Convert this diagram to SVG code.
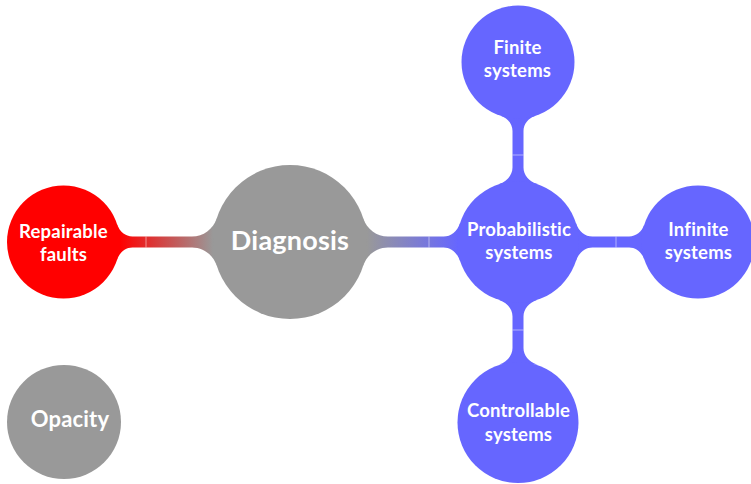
<svg xmlns="http://www.w3.org/2000/svg" width="751" height="484" viewBox="0 0 751 484">
  <style>
    .red { fill: #ff0000; }
    .gray { fill: #999999; }
    .blue { fill: #6666ff; }
    .label { fill: #ffffff; font-family: Lato, "Open Sans", "DejaVu Sans", sans-serif; font-weight: bold; text-anchor: middle; letter-spacing: 0.2px; }
    .small { font-size: 18.5px; }
    .seam { stroke: #ffffff; stroke-width: 0.7; stroke-opacity: 0.7; fill: none; }
  </style>
  <defs>
    <linearGradient id="redToGray" gradientUnits="userSpaceOnUse" x1="120" y1="0" x2="213" y2="0">
      <stop offset="0" stop-color="#ff0000"/>
      <stop offset="1" stop-color="#999999"/>
    </linearGradient>
    <linearGradient id="grayToBlue" gradientUnits="userSpaceOnUse" x1="367" y1="0" x2="458" y2="0">
      <stop offset="0" stop-color="#999999"/>
      <stop offset="1" stop-color="#6666ff"/>
    </linearGradient>
  </defs>

  <!-- connection bars -->
  <g id="connectors">
    <path fill="url(#redToGray)" d="M117.24,224.54 C119.57,231.72 125.63,236.5 132.4,236.5 L192,236.5 C203.3,236.5 213.21,229.18 216.77,218.21 L216.77,265.79 C213.21,254.82 203.3,247.5 192,247.5 L132.4,247.5 C125.63,247.5 119.57,252.28 117.24,259.46 Z"/>
    <line class="seam" x1="146" y1="236.5" x2="146" y2="247.5"/>

    <path fill="url(#grayToBlue)" d="M363.23,218.21 C366.79,229.18 376.7,236.5 388,236.5 L443.6,236.5 C450.83,236.5 457.38,231.16 459.98,223.15 L459.98,260.85 C457.38,252.84 450.83,247.5 443.6,247.5 L388,247.5 C376.7,247.5 366.79,254.82 363.23,265.79 Z"/>
    <line class="seam" x1="429" y1="236.5" x2="429" y2="247.5"/>

    <path class="blue" d="M576.02,223.15 C578.62,231.16 585.17,236.5 592.4,236.5 L629.1,236.5 C635.87,236.5 641.93,231.72 644.26,224.54 L644.26,259.46 C641.93,252.28 635.87,247.5 629.1,247.5 L592.4,247.5 C585.17,247.5 578.62,252.84 576.02,260.85 Z"/>
    <line class="seam" x1="616" y1="236.5" x2="616" y2="247.5"/>

    <path class="blue" d="M500.54,115.74 C507.72,118.07 512.5,124.13 512.5,130.9 L512.5,167.6 C512.5,174.83 507.16,181.38 499.15,183.98 L536.85,183.98 C528.84,181.38 523.5,174.83 523.5,167.6 L523.5,130.9 C523.5,124.13 528.28,118.07 535.46,115.74 Z"/>
    <line class="seam" x1="512.5" y1="155" x2="523.5" y2="155"/>

    <path class="blue" d="M499.15,300.02 C507.16,302.62 512.5,309.17 512.5,316.4 L512.5,348.1 C512.5,355.33 507.16,361.88 499.15,364.48 L536.85,364.48 C528.84,361.88 523.5,355.33 523.5,348.1 L523.5,316.4 C523.5,309.17 528.84,302.62 536.85,300.02 Z"/>
    <line class="seam" x1="512.5" y1="330" x2="523.5" y2="330"/>
  </g>

  <!-- concept nodes -->
  <g id="diagnosis">
    <circle class="gray" cx="290" cy="242" r="77"/>
    <text class="label" x="290" y="250" font-size="27">Diagnosis</text>
  </g>

  <g id="repairable-faults">
    <circle class="red" cx="63.5" cy="242" r="56.5"/>
    <text class="label small" x="63.5" y="237.5">Repairable</text>
    <text class="label small" x="63.5" y="260.5">faults</text>
  </g>

  <g id="probabilistic-systems">
    <circle class="blue" cx="518" cy="242" r="61"/>
    <text class="label small" x="519" y="236">Probabilistic</text>
    <text class="label small" x="519" y="258.5">systems</text>
  </g>

  <g id="finite-systems">
    <circle class="blue" cx="518" cy="62" r="56.5"/>
    <text class="label small" x="517.5" y="54">Finite</text>
    <text class="label small" x="517.5" y="77">systems</text>
  </g>

  <g id="infinite-systems">
    <circle class="blue" cx="698" cy="242" r="56.5"/>
    <text class="label small" x="698.5" y="236">Infinite</text>
    <text class="label small" x="698.5" y="259">systems</text>
  </g>

  <g id="controllable-systems">
    <circle class="blue" cx="518" cy="422.5" r="60.5"/>
    <text class="label small" x="518.5" y="417">Controllable</text>
    <text class="label small" x="518.5" y="441">systems</text>
  </g>

  <g id="opacity">
    <circle class="gray" cx="64" cy="422" r="57"/>
    <text class="label" x="70" y="426.5" font-size="22">Opacity</text>
  </g>
</svg>
